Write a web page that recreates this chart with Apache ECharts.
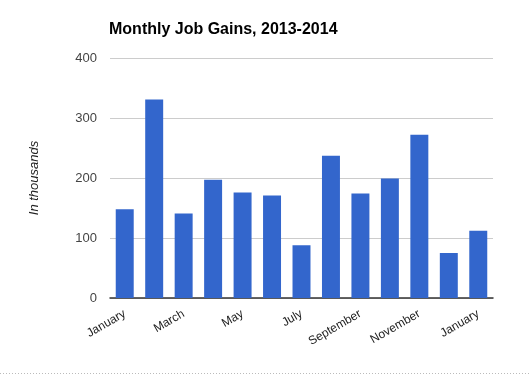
<!DOCTYPE html>
<html>
<head>
<meta charset="utf-8">
<script src="https://cdn.jsdelivr.net/npm/echarts@6/dist/echarts.min.js"></script>
<style>
html,body{margin:0;padding:0;background:#fff;}
#c{width:529px;height:374px;}
</style>
</head>
<body>
<div id="c"></div>
<script>
var categories = ["January","February","March","April","May","June","July","August","September","October","November","December","January"];
var jobGains = [148, 331, 141, 197, 176, 171, 88, 237, 174, 199, 272, 75, 112];
var yTicks = [0, 100, 200, 300, 400];
var titleText = "Monthly Job Gains, 2013-2014";
var yAxisName = "In thousands";

var chart = echarts.init(document.getElementById('c'), null, {renderer:'canvas'});
chart.setOption({
  animation: false,
  title: {
    text: titleText,
    left: 109,
    top: 22,
    padding: 0,
    textStyle: {fontFamily: 'Liberation Sans', fontSize: 16, fontWeight: 'bold', color: '#000'}
  },
  grid: {left: 110, right: 36, top: 58, bottom: 76, containLabel: false},
  xAxis: {
    type: 'category',
    data: categories,
    axisLine: {show: true, lineStyle: {color: '#333', width: 1.5}},
    axisTick: {show: false},
    axisLabel: {
      interval: 1,
      rotate: 30,
      margin: 15,
      fontFamily: 'Liberation Sans',
      fontSize: 12,
      color: '#222'
    }
  },
  yAxis: {
    type: 'value',
    min: yTicks[0],
    max: yTicks[yTicks.length - 1],
    interval: 100,
    name: yAxisName,
    nameLocation: 'middle',
    nameGap: 69,
    nameRotate: 90,
    nameTextStyle: {fontFamily: 'Liberation Sans', fontSize: 13, fontStyle: 'italic', color: '#222'},
    axisLine: {show: false},
    axisTick: {show: false},
    splitLine: {lineStyle: {color: '#ccc', width: 1}},
    axisLabel: {margin: 13, fontFamily: 'Liberation Sans', fontSize: 13, color: '#444'}
  },
  series: [{
    type: 'bar',
    data: jobGains,
    barCategoryGap: '39%',
    itemStyle: {color: '#3366cc'}
  }],
  graphic: [{
    type: 'line',
    shape: {x1: 0, y1: 373.5, x2: 529, y2: 373.5},
    style: {stroke: '#bbb', lineWidth: 1, lineDash: [1, 2]}
  }]
});
</script>
</body>
</html>
